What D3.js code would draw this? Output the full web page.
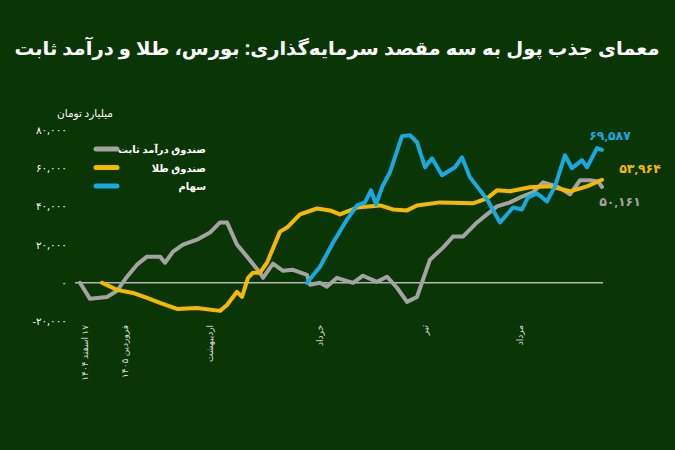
<!DOCTYPE html><html><head><meta charset="utf-8"><script src="https://d3js.org/d3.v7.min.js"></script>
<style>body{margin:0;background:#0a3505}</style></head><body><svg id="c" width="675" height="450"></svg>
<script>
const title="معمای جذب پول به سه مقصد سرمایه‌گذاری: بورس، طلا و درآمد ثابت";
const unitLabel="میلیارد تومان";
const yTicks=[-20000,0,20000,40000,60000,80000];
const xTickPos=[5,45,130,240,345,440];
const xTickLabels=["۱۷ اسفند ۱۴۰۴","فروردین ۱۴۰۵","اردیبهشت","خرداد","تیر","مرداد"];
const seriesNames=["صندوق درآمد ثابت","صندوق طلا","سهام"];
const seriesColors=["#a3a3a3","#f7b900","#18a8e4"];
const endLabels=["۵۰,۱۶۱","۵۳,۹۶۴","۶۹,۵۸۷"];
const grayT=[0,10,27,37,47,57,67,80,85,93,103,117,130,140,147,157,167,180,183,193,203,213,227,230,240,247,257,273,283,297,307,317,327,337,350,363,373,383,397,407,417,430,440,453,463,477,490,500,510,518,522];
const grayV=[0,-8400,-7400,-4200,3200,9500,13700,13700,10500,16300,20000,22600,26300,31600,31600,20000,13700,5300,2600,10000,6300,6800,4200,-1000,0,-2000,2600,0,3700,500,3200,-2600,-10000,-7400,12100,18400,24200,24200,31600,35800,40000,42100,44700,47300,52600,50500,46300,53700,53700,53100,50161];
const goldT=[22,37,53,67,80,97,117,140,147,157,162,168,173,180,187,200,207,220,237,250,260,277,300,313,327,337,360,393,407,417,430,450,470,490,507,522];
const goldV=[0,-3700,-5300,-7900,-10500,-13700,-13200,-14700,-11600,-4700,-7400,2600,5300,5300,10500,26800,28900,35800,38900,37900,35800,39400,40500,38400,37900,40500,42100,41600,44200,48400,47900,50000,50500,47900,50500,53964];
const blueT=[227,240,253,267,277,285,291,296,302,310,322,330,337,345,352,362,375,382,390,407,420,433,442,448,457,467,475,485,492,502,507,517,522];
const blueV=[0,8400,21000,33100,40500,42100,48400,41000,50000,57900,76800,77300,73600,60500,65200,56300,60500,65700,55200,43700,31600,39400,38400,44700,46800,42600,50500,66800,60000,64200,60500,70500,69587];
const fa=s=>String(s).replace(/\d/g,d=>"۰۱۲۳۴۵۶۷۸۹"[d]);
const svg=d3.select("#c");
const F="'Noto Sans','DejaVu Sans',sans-serif";
svg.append("text").attr("x",337).attr("y",55).attr("text-anchor","middle").attr("fill","#fff").attr("font-family",F).attr("font-weight","bold").attr("font-size",19).attr("direction","rtl").attr("textLength",645).attr("lengthAdjust","spacingAndGlyphs").text(title);
const x=d3.scaleLinear().domain([0,522]).range([80,602]);
const y=d3.scaleLinear().domain([-20000,80000]).range([321,130]);
svg.append("line").attr("x1",75).attr("x2",603).attr("y1",y(0)).attr("y2",y(0)).attr("stroke","#b5b5b5").attr("stroke-width",1.5);
yTicks.forEach(v=>{svg.append("text").attr("x",67).attr("y",y(v)+4).attr("text-anchor","end").attr("fill","#fff").attr("font-family",F).attr("font-size",10.5).text(v<0?"-"+fa(d3.format(",")(-v)):fa(d3.format(",")(v)));});
svg.append("text").attr("x",113).attr("y",117).attr("text-anchor","start").attr("fill","#fff").attr("font-family",F).attr("font-size",10.5).attr("direction","rtl").text(unitLabel);
xTickPos.forEach((p,i)=>{svg.append("text").attr("transform",`translate(${x(p)+3},325) rotate(-90)`).attr("text-anchor","start").attr("fill","#ddd").attr("font-family",F).attr("font-size",9).attr("direction","rtl").text(xTickLabels[i]);});
const line=d3.line().x(d=>x(d[0])).y(d=>y(d[1]));
const data=[d3.zip(grayT,grayV),d3.zip(goldT,goldV),d3.zip(blueT,blueV)];
data.forEach((d,i)=>svg.append("path").datum(d).attr("d",line).attr("fill","none").attr("stroke",seriesColors[i]).attr("stroke-width",4).attr("stroke-linejoin","round").attr("stroke-linecap","round"));
seriesNames.forEach((n,i)=>{const ly=149+i*18.5;
 svg.append("line").attr("x1",96).attr("x2",117).attr("y1",ly).attr("y2",ly).attr("stroke",seriesColors[i]).attr("stroke-width",5).attr("stroke-linecap","round");
 svg.append("text").attr("x",206).attr("y",ly+4).attr("text-anchor","start").attr("fill","#fff").attr("font-family",F).attr("font-weight","bold").attr("font-size",10).attr("direction","rtl").text(n);});
const endPos=[[620,206],[640,173],[610,140]];
endLabels.forEach((t,i)=>svg.append("text").attr("x",endPos[i][0]).attr("y",endPos[i][1]).attr("text-anchor","middle").attr("fill",seriesColors[i]).attr("font-family",F).attr("font-weight","bold").attr("font-size",12.5).text(t));
</script></body></html>
